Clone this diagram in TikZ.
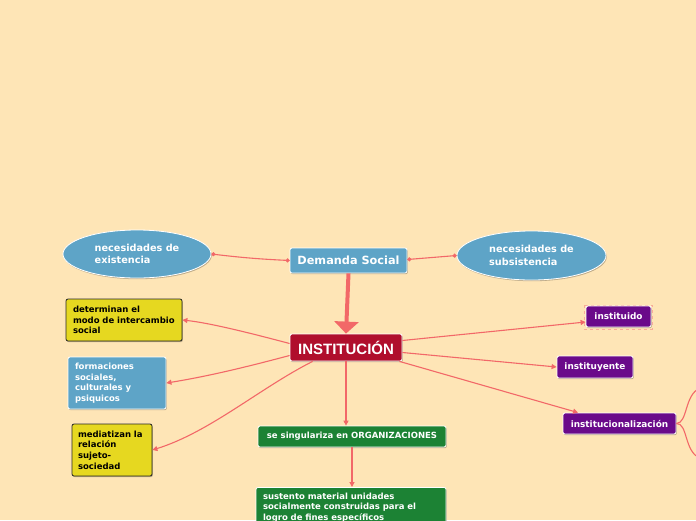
\documentclass[tikz,border=0pt]{standalone}
\usepackage{fontspec}
\setmainfont{DejaVu Sans}
\newfontfamily\lib{Liberation Sans}
\usetikzlibrary{shapes.geometric,arrows.meta,shadows}
\newcommand\nohyphx{\hyphenpenalty=10000\relax\exhyphenpenalty=10000\relax}
\definecolor{bgc}{RGB}{254,229,182}
\definecolor{bluec}{RGB}{94,164,199}
\definecolor{yelc}{RGB}{230,216,32}
\definecolor{redc}{RGB}{176,14,44}
\definecolor{grnc}{RGB}{28,130,52}
\definecolor{purc}{RGB}{106,10,138}
\definecolor{linec}{RGB}{242,104,104}
\tikzset{
  shad/.style={drop shadow={shadow xshift=0.8pt,shadow yshift=-1.2pt,opacity=0.25,fill=black}},
  box/.style={rectangle,rounded corners=2pt,line width=0.8pt,align=left,inner xsep=0pt,inner ysep=0pt,font=\bfseries\fontsize{8.5}{10.7}\selectfont\nohyphx,shad},
  bluebox/.style={box,fill=bluec,draw=white,text=white},
  yelbox/.style={box,fill=yelc,draw=black!85,text=black},
  grnbox/.style={box,fill=grnc,draw=white,text=white},
  purbox/.style={box,fill=purc,draw=white,text=white,font=\bfseries\fontsize{8.9}{11}\selectfont},
  ell/.style={ellipse,fill=bluec,draw=white,line width=0.8pt,text=white,align=left,inner sep=0pt,font=\bfseries\fontsize{9.7}{12.5}\selectfont,shad},
  conn/.style={draw=linec,line width=1.1pt,-{Triangle[length=5pt,width=5pt]}},
  dotconn/.style={draw=linec,line width=1.1pt,{Circle[length=4pt]}-{Circle[length=4pt]}},
}
\begin{document}
\begin{tikzpicture}[x=1pt,y=-1pt]
\useasboundingbox (0,0) rectangle (696,520);
\clip (0,0) rectangle (696,520);
\fill[bgc] (0,0) rectangle (696,520);

\node[ell,minimum width=148pt,minimum height=48pt] (ex) at (137,254) {necesidades de\\existencia};
\node[ell,minimum width=149pt,minimum height=49pt] (sub) at (531.5,255.5) {necesidades de\\subsistencia};
\node[bluebox,minimum width=117pt,minimum height=25pt,align=center,font=\bfseries\fontsize{11.3}{13}\selectfont] (dem) at (348.5,260.5) {Demanda Social};
\node[box,fill=redc,draw=white,text=white,minimum width=112pt,minimum height=27pt,align=center,font=\lib\bfseries\fontsize{15}{17}\selectfont] (inst) at (346,347.5) {INSTITUCIÓN};

\node[yelbox,minimum width=116pt,minimum height=42pt,text width=102pt] (det) at (124,320) {determinan el\\modo de intercambio\\social};
\node[bluebox,minimum width=98pt,minimum height=52pt,text width=84pt] (form) at (117,383) {formaciones\\sociales,\\culturales y\\psiquicos};
\node[yelbox,minimum width=80pt,minimum height=52pt,text width=68pt] (med) at (112,450) {mediatizan la\\relación\\sujeto-\\sociedad};

\node[grnbox,minimum width=188pt,minimum height=21pt,align=center] (sing) at (352,436.5) {se singulariza en ORGANIZACIONES};
\node[grnbox,minimum width=190pt,minimum height=40pt,text width=176pt,anchor=north,inner ysep=0.5pt] (sust) at (351,487) {sustento material unidades\\socialmente construidas para el\\logro de fines específicos};

\draw[linec!80,dashed,line width=0.5pt,opacity=0.6] (584,305) rectangle (652,329);
\node[purbox,minimum width=65pt,minimum height=21pt,align=center] (ido) at (618.5,316.5) {instituido};
\node[purbox,minimum width=76pt,minimum height=22pt,align=center] (yente) at (595,367) {instituyente};
\node[purbox,minimum width=113pt,minimum height=21pt,align=center] (izac) at (619.5,423.5) {institucionalización};

% connectors
\draw[dotconn] (dem.west) to[bend left=2] (ex.east);
\draw[dotconn] (dem.east) ++(0,-1) coordinate (de) (de) -- (sub.west);
\draw[draw=linec,line width=4pt,-{Triangle[length=12pt,width=24pt]}] (dem.south) -- (inst.north);

\draw[conn] (inst.west) ++(0,-4) coordinate (i1) (i1) .. controls (250,333) and (210,323) .. (det.east);
\draw[conn] (inst.west) ++(0,8) coordinate (i2) (i2) .. controls (250,366) and (210,376) .. (form.east);
\draw[conn] (inst.south west) ++(23,0) coordinate (i3) (i3) .. controls (260,388) and (210,432) .. (med.east);
\draw[conn] (inst.south) -- (sing.north -| inst.south);
\draw[conn] (sing.south) -- (sust.north -| sing.south);
\draw[conn] (inst.east) ++(0,-7) coordinate (i4) (i4) -- (ido.west |- 0,322);
\draw[conn] (inst.east) ++(0,5) coordinate (i5) (i5) -- (yente.west);
\draw[conn] (inst.south east) ++(-3,0) coordinate (i6) (i6) -- (izac.north -| 578,0);

\coordinate (r1) at (700,388);
\coordinate (r2) at (700,458);
\draw[draw=linec,line width=1.1pt] (izac.east) .. controls (688,423) and (684,395) .. (r1);
\draw[draw=linec,line width=1.1pt] (izac.east) .. controls (688,423) and (684,452) .. (r2);
\end{tikzpicture}
\end{document}
